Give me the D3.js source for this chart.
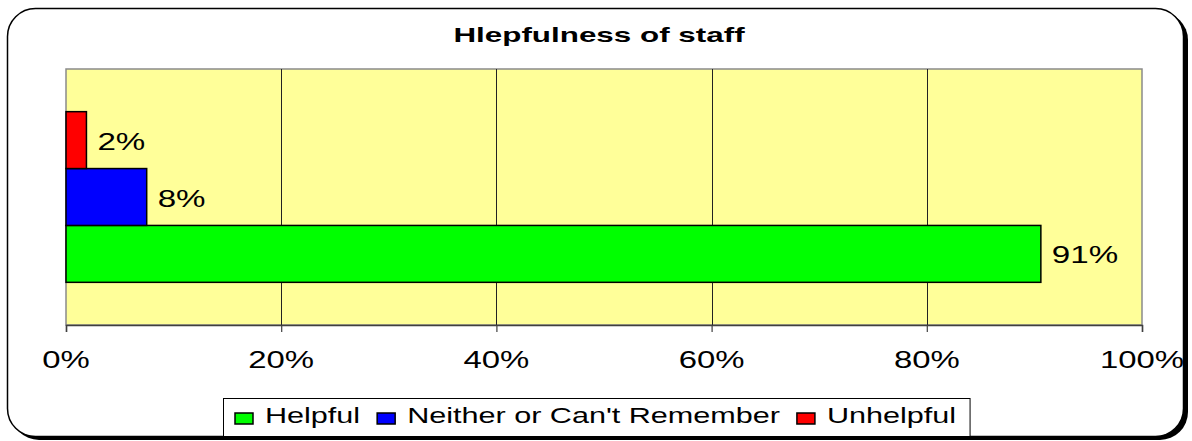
<!DOCTYPE html>
<html>
<head>
<meta charset="utf-8">
<script src="https://cdn.jsdelivr.net/npm/d3@7"></script>
<style>
    body { margin: 0; background: #ffffff; }
    text { font-family: Arial, "Liberation Sans", sans-serif; fill: #000000; }
</style>
</head>
<body>
<div id="svg_container"></div>
<script>
// chart data
let titleText = "Hlepfulness of staff";
let categories = ["Staff"];
let seriesNames = ["Helpful", "Neither or Can't Remember", "Unhelpful"];
let seriesValues = [0.906, 0.075, 0.019];
let seriesColors = ["#00ff00", "#0000ff", "#ff0000"];
let tickValues = [0, 0.2, 0.4, 0.6, 0.8, 1.0];

function init() {
    let width = 1192, height = 441;
    let plot = {left: 66, right: 1142, top: 69, bottom: 325};

    let svg = d3.select("#svg_container")
        .append("svg")
        .attr("width", width)
        .attr("height", height);

    // outer frame with shadow
    svg.append("rect")
        .attr("x", 11).attr("y", 12)
        .attr("width", 1177).attr("height", 428)
        .attr("rx", 28).attr("ry", 28)
        .style("fill", "#000000");
    svg.append("rect")
        .attr("x", 7.5).attr("y", 8.5)
        .attr("width", 1176).attr("height", 428)
        .attr("rx", 28).attr("ry", 28)
        .style("fill", "#ffffff")
        .style("stroke", "#000000")
        .style("stroke-width", 1.5);

    // the original picture is stretched sideways, so the text is too
    function stretchedText(parent, x, y, str, size, weight, anchor, sx) {
        let g = parent.append("g")
            .attr("transform", "translate(" + x + "," + y + ") scale(" + sx + ",1)");
        let t = g.append("text")
            .attr("x", 0).attr("y", 0)
            .attr("font-size", size + "px")
            .attr("font-weight", weight)
            .attr("text-anchor", anchor)
            .text(str);
        return t;
    }

    stretchedText(svg, 599, 42, titleText, 20, "bold", "middle", 1.57);

    let x = d3.scaleLinear()
        .domain([0, 1])
        .range([plot.left, plot.right]);

    let y0 = d3.scaleBand()
        .domain(categories)
        .range([plot.top, plot.bottom])
        .paddingInner(0)
        .paddingOuter(0.25);

    let y1 = d3.scaleBand()
        .domain(seriesNames.slice().reverse())
        .range([0, y0.bandwidth()]);

    // plot background
    svg.append("rect")
        .attr("x", plot.left).attr("y", plot.top)
        .attr("width", plot.right - plot.left)
        .attr("height", plot.bottom - plot.top)
        .style("fill", "#ffff99")
        .style("stroke", "#8a8a8a")
        .style("stroke-width", 1.5);

    // grid lines
    svg.append("g")
        .selectAll("line")
        .data(tickValues.filter(d => d > 0 && d < 1))
        .enter()
        .append("line")
        .attr("x1", d => Math.round(x(d)) + 0.5)
        .attr("x2", d => Math.round(x(d)) + 0.5)
        .attr("y1", plot.top)
        .attr("y2", plot.bottom)
        .style("stroke", "#222222")
        .style("stroke-width", 1);

    // bars
    let rows = seriesNames.map((name, i) => ({name: name, value: seriesValues[i], color: seriesColors[i], cat: categories[0]}));

    svg.append("g")
        .selectAll("rect")
        .data(rows)
        .enter()
        .append("rect")
        .attr("x", x(0))
        .attr("y", d => y0(d.cat) + y1(d.name))
        .attr("width", d => x(d.value) - x(0))
        .attr("height", y1.bandwidth())
        .style("fill", d => d.color)
        .style("stroke", "#000000")
        .style("stroke-width", 1.5);

    // value labels
    let fmt = d3.format(".0%");
    rows.forEach(function (d) {
        stretchedText(svg, x(d.value) + 11, y0(d.cat) + y1(d.name) + y1.bandwidth() / 2 + 9.5,
            fmt(d.value), 24, "normal", "start", 1.38);
    });

    // x axis
    let axis = d3.axisBottom(x)
        .tickValues(tickValues)
        .tickSize(7)
        .tickFormat("");
    let axisG = svg.append("g")
        .attr("transform", "translate(0," + plot.bottom + ")")
        .call(axis);
    axisG.select(".domain").style("stroke", "#404040").style("stroke-width", 1.5);
    axisG.selectAll(".tick line").style("stroke", "#404040").style("stroke-width", 1.2);

    tickValues.forEach(function (t) {
        stretchedText(svg, x(t), 368, fmt(t), 24, "normal", "middle", 1.37);
    });

    // legend
    let legend = svg.append("g");
    let legendBox = legend.append("rect")
        .attr("x", 223.5).attr("y", 398.5)
        .attr("height", 38)
        .style("fill", "#ffffff")
        .style("stroke", "#000000")
        .style("stroke-width", 1);

    let sxLegend = 1.39;
    let cursor = 235;
    seriesNames.forEach(function (name, i) {
        legend.append("rect")
            .attr("x", cursor).attr("y", 413)
            .attr("width", 18).attr("height", 11)
            .style("fill", seriesColors[i])
            .style("stroke", "#000000")
            .style("stroke-width", 1.5);
        let t = stretchedText(legend, cursor + 30, 423, name, 22, "normal", "start", sxLegend);
        let w = t.node().getComputedTextLength() * sxLegend;
        cursor = cursor + 30 + w + 17;
    });
    legendBox.attr("width", cursor - 17 + 14 - 223.5);
}

init();
</script>
</body>
</html>
